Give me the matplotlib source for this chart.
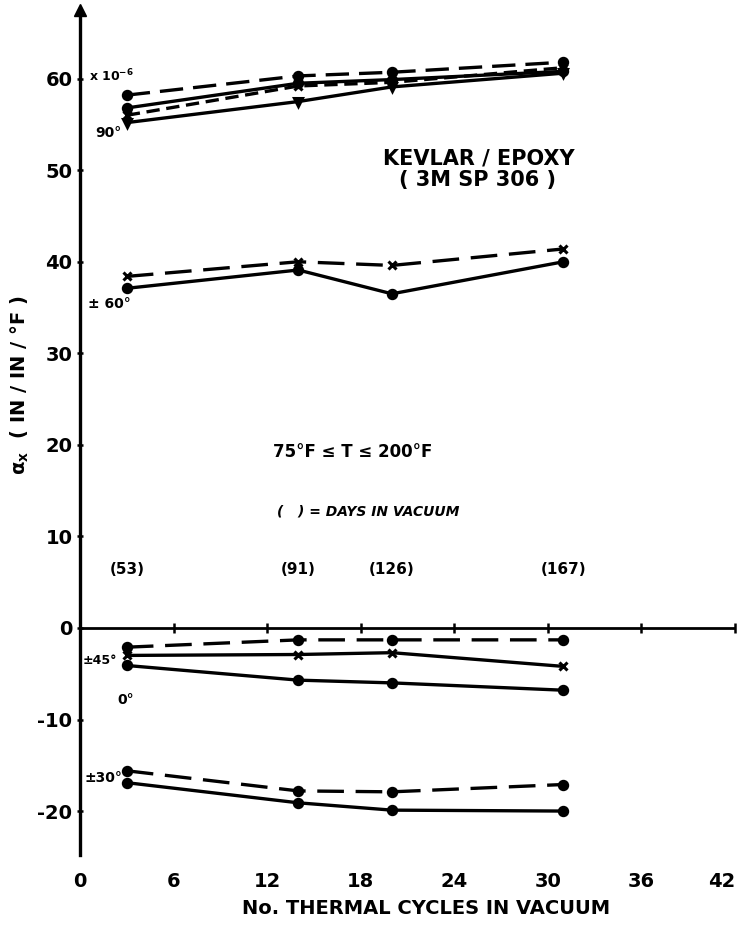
import matplotlib
matplotlib.use("Agg")
import matplotlib.pyplot as plt

plt.rcParams['font.family'] = ['DejaVu Sans']
plt.rcParams['font.weight'] = 'bold'
plt.rcParams['axes.unicode_minus'] = False

# number of thermal cycles where measurements were taken
cycles = [3, 14, 20, 31]
days = ["(53)", "(91)", "(126)", "(167)"]

# 90 deg specimens
a90_dash_o = [58.2, 60.3, 60.7, 61.8]
a90_dash_x = [56.0, 59.2, 59.6, 61.2]
a90_solid_o = [56.8, 59.5, 59.9, 60.8]
a90_solid_v = [55.2, 57.5, 59.1, 60.6]

# +/-60 deg specimens
a60_dash = [38.4, 40.0, 39.6, 41.4]
a60_solid = [37.1, 39.1, 36.5, 40.0]

# 0 and +/-45 deg specimens
a45_dash = [-2.1, -1.3, -1.3, -1.3]
a45_solid = [-3.0, -2.9, -2.7, -4.2]
a0_solid = [-4.1, -5.7, -6.0, -6.8]

# +/-30 deg specimens
a30_dash = [-15.6, -17.8, -17.9, -17.1]
a30_solid = [-16.9, -19.1, -19.9, -20.0]

xticks = [0, 6, 12, 18, 24, 30, 36, 42]
yticks = [-20, -10, 0, 10, 20, 30, 40, 50, 60]

series = [
    (a90_dash_o, (0, (7, 3)), 'o'),
    (a90_dash_x, (0, (4, 2)), 'x'),
    (a90_solid_o, '-', 'o'),
    (a90_solid_v, '-', 'v'),
    (a60_dash, (0, (8, 3.5)), 'x'),
    (a60_solid, '-', 'o'),
    (a45_dash, (0, (8, 3.5)), 'o'),
    (a45_solid, '-', 'x'),
    (a0_solid, '-', 'o'),
    (a30_dash, (0, (8, 3.5)), 'o'),
    (a30_solid, '-', 'o'),
]

fig = plt.figure(figsize=(7.39, 9.25), dpi=100)
ax = fig.add_axes([80 / 739, 70 / 925, 655 / 739, 845 / 925])

for vals, ls, mk in series:
    ax.plot(cycles, vals, color='black', lw=2.4, linestyle=ls, marker=mk,
            markersize=6, markeredgewidth=2.2, markerfacecolor='black',
            markeredgecolor='black', clip_on=False)

# zero line with its small ticks
ax.axhline(0, color='black', lw=2)
ax.plot(xticks[1:], [0] * (len(xticks) - 1), linestyle='none', marker='|',
        markersize=7, markeredgewidth=1.8, color='black', clip_on=False)

ax.set_xlim(0, 42)
ax.set_ylim(-24.8, 67.5)
for s in ['top', 'right', 'bottom']:
    ax.spines[s].set_visible(False)
ax.spines['left'].set_linewidth(2.4)
ax.plot([0], [67.5], marker='^', markersize=9, color='black', clip_on=False)

ax.set_xticks(xticks)
ax.set_yticks(yticks)
ax.tick_params(axis='x', length=0, pad=12, labelsize=14)
ax.tick_params(axis='y', length=5, width=1.8, direction='inout', pad=3, labelsize=14)
for lab in ax.get_xticklabels() + ax.get_yticklabels():
    lab.set_fontweight('bold')
ax.get_xticklabels()[-1].set_horizontalalignment('right')

# curve labels
ax.text(0.6, 60.3, r"x 10$^{\mathbf{-6}}$", fontsize=9, va='center', ha='left')
ax.text(1.0, 54.1, "90°", fontsize=10, va='center', ha='left')
ax.text(0.5, 35.4, "± 60°", fontsize=10, va='center', ha='left')
ax.text(0.2, -3.6, "±45°", fontsize=9, va='center', ha='left')
ax.text(2.4, -7.9, "0°", fontsize=10, va='center', ha='left')
ax.text(0.3, -16.4, "±30°", fontsize=10, va='center', ha='left')

ax.text(25.6, 51.3, "KEVLAR / EPOXY", fontsize=15, ha='center', va='center')
ax.text(25.5, 48.9, "( 3M SP 306 )", fontsize=15, ha='center', va='center')
ax.text(17.5, 19.2, "75°F ≤ T ≤ 200°F", fontsize=12, ha='center', va='center')
ax.text(18.5, 12.7, "(   ) = DAYS IN VACUUM", fontsize=10, ha='center', va='center',
        style='italic')
for c, d in zip(cycles, days):
    ax.text(c, 6.4, d, fontsize=11, ha='center', va='center')

fig.text(20 / 739, 1 - 385 / 925, r"$\mathbf{\alpha_x}$  ( IN / IN / °F )",
         rotation=90, fontsize=14, ha='center', va='center')
fig.text(426 / 739, 1 - 908 / 925, "No. THERMAL CYCLES IN VACUUM",
         fontsize=14, ha='center', va='center')

fig.savefig("out.png", dpi=100)
